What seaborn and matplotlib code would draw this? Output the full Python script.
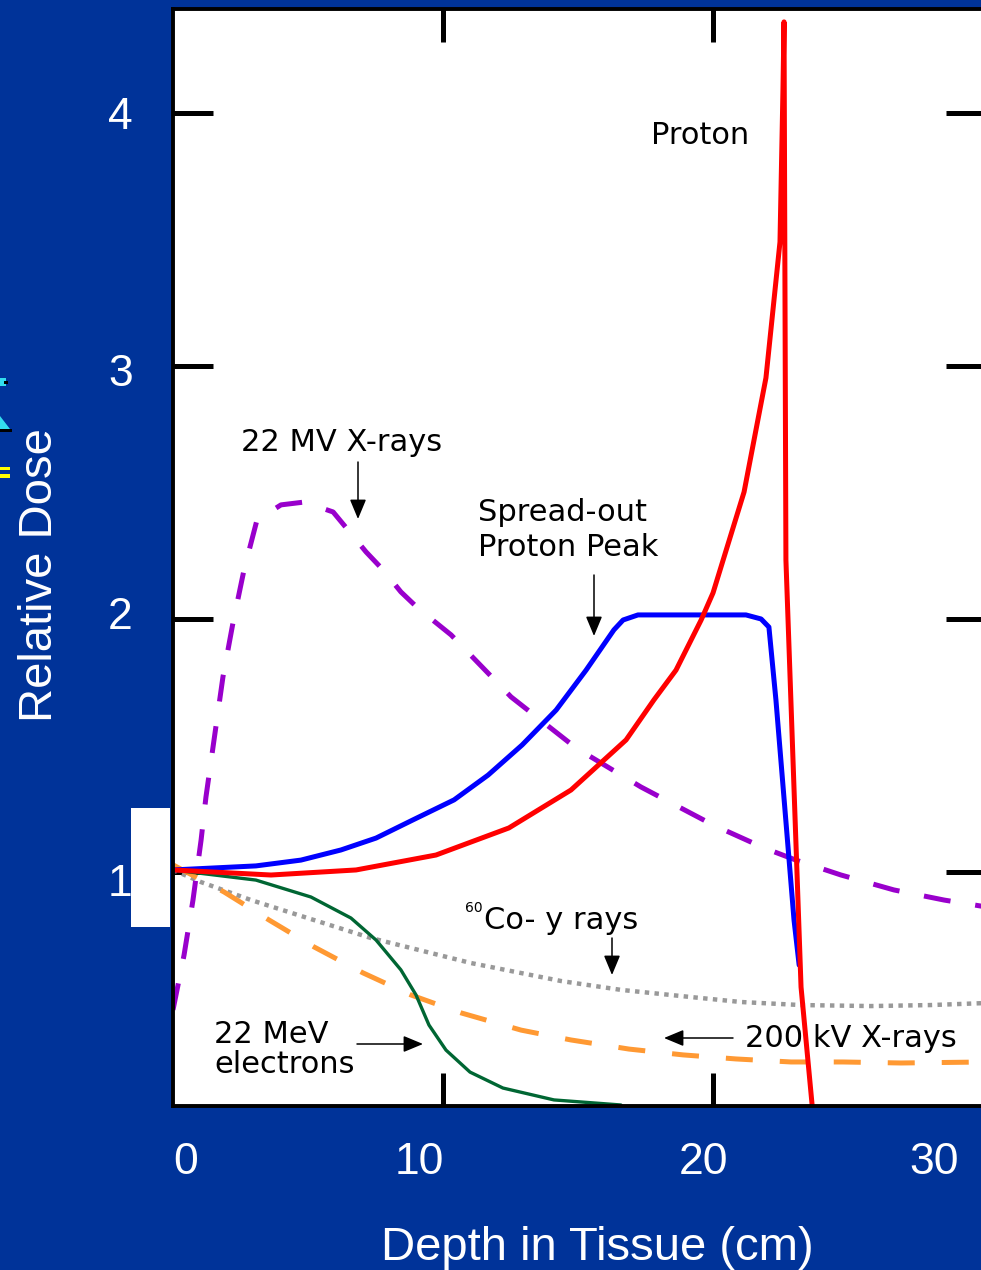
import matplotlib
matplotlib.use("Agg")
import matplotlib.pyplot as plt
import seaborn as sns
import pandas as pd
from matplotlib.patches import Rectangle, Polygon
from matplotlib.transforms import ScaledTranslation

# ---------------- data ----------------
proton_depth = [0, 3.63, 6.78, 9.74, 12.44, 14.74, 16.78, 17.81, 18.63, 19.56, 20.0,
                21.15, 21.96, 22.48, 22.59, 22.63, 22.70, 23.26, 23.67, 23.74]
proton_dose = [1.008, 0.988, 1.008, 1.067, 1.174, 1.324, 1.522, 1.680, 1.798, 1.996, 2.103,
               2.502, 2.953, 3.49, 4.09, 4.36, 2.233, 0.545, 0.079, -0.06]

sobp_depth = [0, 3.07, 4.74, 6.22, 7.52, 8.89, 10.41, 11.67, 12.93, 14.19, 15.30, 16.33,
              16.67, 17.22, 21.22, 21.78, 22.07, 22.33, 23.0, 23.19]
sobp_dose = [1.008, 1.024, 1.047, 1.087, 1.134, 1.206, 1.285, 1.383, 1.502, 1.640, 1.798, 1.957,
             1.996, 2.016, 2.016, 2.0, 1.968, 1.680, 0.810, 0.632]

mv22_depth = [0, 0.41, 0.74, 1.04, 1.22, 1.85, 2.22, 2.63, 3.11, 4.0, 4.85, 5.93, 6.48, 7.15,
              7.78, 8.44, 9.07, 10.30, 12.52, 14.93, 17.33, 20.0, 21.89, 23.07, 24.74, 26.70,
              28.56, 30.11]
mv22_dose = [0.455, 0.672, 0.889, 1.126, 1.296, 1.771, 1.984, 2.194, 2.391, 2.451, 2.462, 2.423,
             2.352, 2.265, 2.194, 2.107, 2.043, 1.937, 1.692, 1.490, 1.336, 1.186, 1.095, 1.047,
             0.988, 0.929, 0.889, 0.862]

co60_depth = [0, 1.04, 2.89, 4.63, 7.33, 11.04, 14.37, 16.59, 19.15, 21.04, 23.26, 25.85, 28.07, 30.11]
co60_dose = [1.008, 0.960, 0.889, 0.830, 0.739, 0.640, 0.569, 0.534, 0.506, 0.486, 0.474, 0.470,
             0.474, 0.482]

kv200_depth = [0, 1.89, 3.56, 5.22, 7.04, 8.81, 10.67, 12.89, 14.74, 16.89, 18.89, 20.85, 22.89,
               24.81, 26.96, 30.11]
kv200_dose = [1.028, 0.921, 0.810, 0.704, 0.601, 0.514, 0.443, 0.375, 0.336, 0.300, 0.277, 0.261,
              0.249, 0.249, 0.245, 0.249]

electron_depth = [0, 3.07, 5.11, 6.59, 7.52, 8.44, 9.0, 9.48, 10.11, 11.0, 12.22, 14.11, 16.59]
electron_dose = [1.008, 0.968, 0.901, 0.818, 0.731, 0.613, 0.514, 0.395, 0.296, 0.209, 0.146,
                 0.099, 0.079]

x_ticks = [0, 10, 20, 30]
x_ticklabels = ["0", "10", "20", "30"]
y_ticks = [1, 2, 3, 4]
y_ticklabels = ["1", "2", "3", "4"]

# ---------------- style ----------------
sns.set_style("white")
plt.rcParams["font.family"] = ["Liberation Sans", "DejaVu Sans"]

W, H = 981, 1270
fig = plt.figure(figsize=(W / 100, H / 100), dpi=100)
fig.patch.set_facecolor("#003399")

L, R, T, B = 173, 986, 9, 1106
ax = fig.add_axes([L / W, 1 - B / H, (R - L) / W, (B - T) / H])
ax.set_facecolor("white")

def line(x, y, color, lw, ls="-"):
    df = pd.DataFrame({"depth": x, "dose": y})
    sns.lineplot(data=df, x="depth", y="dose", ax=ax, color=color, linewidth=lw,
                 sort=False, estimator=None)
    ln = ax.lines[-1]
    ln.set_linestyle(ls)
    ln.set_dash_capstyle("butt")
    ln.set_solid_joinstyle("round")
    return ln

line(co60_depth, co60_dose, "#999999", 3.2, (0, (1.0, 1.2)))
line(kv200_depth, kv200_dose, "#FF9933", 3.6, (0, (5.4, 5.4)))
line(electron_depth, electron_dose, "#006633", 2.4)
line(mv22_depth, mv22_dose, "#9900CC", 3.6, (0, (5.4, 5.0)))
line(sobp_depth, sobp_dose, "#0000FF", 3.6)
line(proton_depth, proton_dose, "#FF0000", 3.6)

ax.set_xlim(0, 30.11)
ax.set_ylim(0.075, 4.411)
ax.set_xlabel("")
ax.set_ylabel("")

for s in ax.spines.values():
    s.set_visible(True)
    s.set_color("black")
    s.set_linewidth(2.8)

ax.xaxis.remove_overlapping_locs = False
ax.set_xticks(x_ticks)
ax.set_xticklabels(x_ticklabels)
ax.set_xticks([10, 20], minor=True)
ax.tick_params(axis="x", which="major", length=0, pad=26, labelsize=32, labelcolor="white")
ax.tick_params(axis="x", which="minor", direction="in", length=24, width=3.6,
               top=True, bottom=True, color="black")
ax.set_yticks(y_ticks)
ax.set_yticklabels(y_ticklabels)
ax.tick_params(axis="y", which="major", direction="in", length=29, width=3.6, color="black",
               left=True, right=True, pad=29, labelsize=32, labelcolor="white")

# label offsets as they appear in the picture (pixels)
for tk, dx in zip(ax.xaxis.get_major_ticks(), [13, -24, -10, -49]):
    tk.label1.set_transform(tk.label1.get_transform() + ScaledTranslation(dx / 100, 0, fig.dpi_scale_trans))
for tk, dy in zip(ax.yaxis.get_major_ticks(), [-8, 6, -4, 0]):
    tk.label1.set_transform(tk.label1.get_transform() + ScaledTranslation(0, dy / 100, fig.dpi_scale_trans))

ax.set_xlabel("Depth in Tissue (cm)", color="white", fontsize=34)
ax.xaxis.set_label_coords((597 - L) / (R - L), -(1226 - B) / (B - T))
ax.set_ylabel("Relative Dose", color="white", fontsize=34)
ax.yaxis.set_label_coords((62 - L) / (R - L), (B - 575) / (B - T))

# ---------------- annotations (pixel positions from the picture) ----------------
def fp(x, y):
    return (x / W, 1 - y / H)

afont = dict(family=["DejaVu Sans"], fontsize=22, color="black")
fig.text(*fp(700, 144), "Proton", ha="center", va="baseline", **afont)
fig.text(*fp(342, 451), "22 MV X-rays", ha="center", va="baseline", **afont)
fig.text(*fp(478, 521), "Spread-out", ha="left", va="baseline", **afont)
fig.text(*fp(478, 556), "Proton Peak", ha="left", va="baseline", **afont)
fig.text(*fp(484, 929), "Co- y rays", ha="left", va="baseline", **afont)
fig.text(*fp(483, 912), "60", ha="right", va="baseline", family=["DejaVu Sans"], fontsize=10, color="black")
fig.text(*fp(214, 1043), "22 MeV", ha="left", va="baseline", **afont)
fig.text(*fp(214, 1073), "electrons", ha="left", va="baseline", **afont)
fig.text(*fp(745, 1047), "200 kV X-rays", ha="left", va="baseline", **afont)

def arrow(x0, y0, x1, y1):
    fig.add_artist(matplotlib.patches.FancyArrowPatch(
        fp(x0, y0), fp(x1, y1), transform=fig.transFigure,
        arrowstyle="-|>,head_length=0.6,head_width=0.25", mutation_scale=20,
        color="black", lw=1.1, shrinkA=0, shrinkB=0))

arrow(358, 462, 358, 519)
arrow(594, 575, 594, 636)
arrow(612, 938, 612, 975)
arrow(357, 1044, 423, 1044)
arrow(733, 1038, 664, 1038)

# decorative bits of the slide outside the plot
fig.add_artist(Rectangle(fp(131, 927), 39 / W, 119 / H, transform=fig.transFigure,
                         facecolor="white", edgecolor="none"))
fig.add_artist(Rectangle(fp(0, 386), 6 / W, 8 / H, transform=fig.transFigure,
                         facecolor="#33DDEE", edgecolor="none"))
fig.add_artist(Rectangle(fp(4, 384), 4 / W, 3 / H, transform=fig.transFigure,
                         facecolor="black", edgecolor="none"))
fig.add_artist(Polygon([fp(0, 416), fp(0, 429), fp(10, 429)], closed=True,
                       transform=fig.transFigure, facecolor="#33DDEE", edgecolor="none"))
fig.add_artist(Rectangle(fp(0, 432), 12 / W, 3 / H, transform=fig.transFigure,
                         facecolor="black", edgecolor="none"))
fig.add_artist(Rectangle(fp(0, 470), 10 / W, 3 / H, transform=fig.transFigure,
                         facecolor="#FFFF00", edgecolor="none"))
fig.add_artist(Rectangle(fp(0, 478), 10 / W, 4 / H, transform=fig.transFigure,
                         facecolor="#FFFF00", edgecolor="none"))

fig.savefig("out.png", dpi=100, facecolor=fig.get_facecolor())
